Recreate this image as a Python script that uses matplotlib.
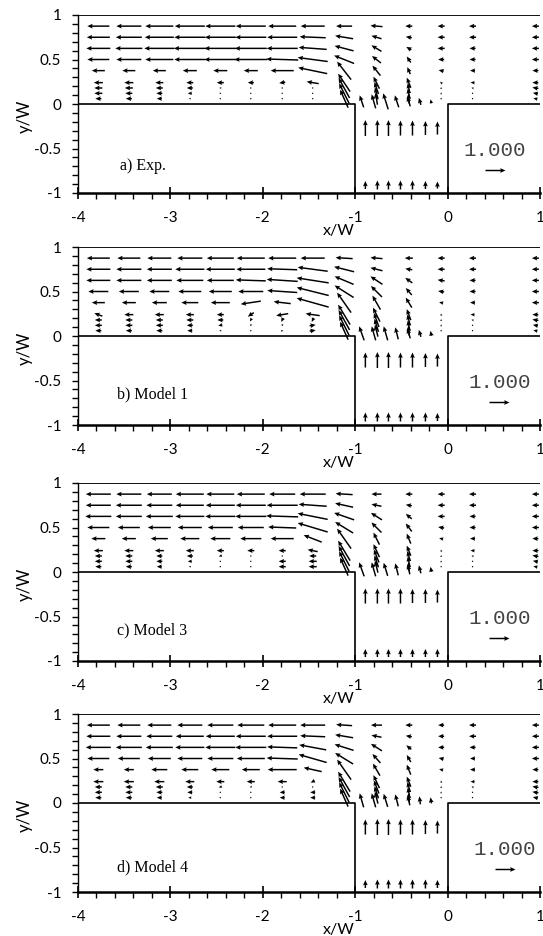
import numpy as np
import matplotlib
matplotlib.use('Agg')
import matplotlib.pyplot as plt
from matplotlib.ticker import MultipleLocator

# grid of the measurement / model points
x_cols = [-3.78, -3.45, -3.12, -2.79, -2.46, -2.13, -1.79, -1.46, -1.12, -0.77, -0.42, -0.07, 0.27, 0.95]
y_rows = [0.875, 0.75, 0.625, 0.5, 0.375, 0.24, 0.18, 0.12, 0.06]

# a) Exp.
u_exp = [[-1.1, -1.25, -1.4, -1.5, -1.5, -1.5, -1.4, -1.2, -0.8, -0.6, -0.35, -0.35, -0.35, -0.35],
         [-1.15, -1.3, -1.45, -1.55, -1.55, -1.55, -1.5, -1.3, -0.9, -0.5, -0.3, -0.35, -0.35, -0.35],
         [-1.2, -1.35, -1.5, -1.6, -1.6, -1.6, -1.55, -1.4, -0.95, -0.5, -0.25, -0.35, -0.3, -0.35],
         [-1.1, -1.25, -1.4, -1.55, -1.6, -1.65, -1.6, -1.5, -1.0, -0.45, -0.2, -0.3, -0.3, -0.35],
         [-0.65, -0.65, -0.65, -0.7, -0.7, -0.7, -1.15, -1.45, -0.7, -0.4, -0.15, -0.25, -0.25, -0.3],
         [-0.45, -0.45, -0.4, -0.35, -0.35, -0.3, -0.3, -0.6, -0.6, -0.3, -0.2, -0.1, -0.2, -0.3],
         [-0.4, -0.4, -0.35, -0.3, -0.1, -0.05, -0.02, -0.02, -0.55, -0.2, -0.1, 0.0, -0.1, -0.3],
         [-0.4, -0.35, -0.3, -0.2, -0.05, -0.02, 0.0, 0.0, -0.5, -0.15, -0.1, 0.0, 0.0, -0.25],
         [-0.3, -0.3, -0.25, -0.1, -0.02, 0.0, 0.0, 0.0, -0.4, -0.1, -0.05, 0.0, 0.0, -0.2]]
v_exp = [[0, 0, 0, 0, 0, 0, 0, 0, 0, 0.05, 0, 0, 0, 0],
         [0, 0, 0, 0, 0, 0, 0, 0.05, 0.15, 0.15, 0.05, 0, 0, 0],
         [0, 0, 0, 0, 0, 0, 0, 0.1, 0.25, 0.3, 0.15, 0, 0, 0],
         [0, 0, 0, 0, 0, 0, 0.05, 0.2, 0.4, 0.35, 0.3, 0, 0, 0],
         [0, 0, 0, 0, 0, 0, 0, 0.3, 0.9, 0.5, 0.35, 0.05, 0, 0],
         [0, 0, 0, 0, 0, 0, -0.05, 0.1, 0.9, 0.6, 0.5, 0.1, 0, 0],
         [0, 0, 0, 0, 0, -0.05, -0.05, -0.05, 1.0, 0.6, 0.5, 0.1, 0.05, 0.05],
         [0, 0, 0, 0, 0, -0.05, -0.05, -0.05, 1.0, 0.6, 0.5, 0.1, 0.05, 0.05],
         [0, 0, 0, 0, 0, -0.03, -0.05, -0.05, 0.9, 0.6, 0.5, 0.05, 0.05, 0.05]]

# b) Model 1
u_m1 = [[-1.15, -1.15, -1.2, -1.25, -1.35, -1.4, -1.4, -1.2, -0.85, -0.6, -0.4, -0.35, -0.35, -0.35],
        [-1.2, -1.25, -1.25, -1.45, -1.45, -1.45, -1.5, -1.5, -1.0, -0.6, -0.35, -0.35, -0.35, -0.35],
        [-1.2, -1.25, -1.25, -1.35, -1.35, -1.5, -1.55, -1.6, -0.95, -0.6, -0.35, -0.35, -0.3, -0.35],
        [-1.0, -1.0, -1.0, -1.15, -1.15, -1.25, -1.5, -1.6, -0.95, -0.55, -0.3, -0.3, -0.3, -0.35],
        [-0.65, -0.7, -0.75, -0.85, -0.95, -1.0, -0.85, -1.6, -0.7, -0.4, -0.3, -0.2, -0.25, -0.35],
        [-0.4, -0.45, -0.45, -0.4, -0.35, -0.3, -0.6, -0.7, -0.6, -0.35, -0.2, -0.05, -0.2, -0.3],
        [-0.35, -0.35, -0.35, -0.35, -0.3, -0.1, -0.1, -0.1, -0.55, -0.25, -0.15, 0.0, -0.1, -0.3],
        [-0.35, -0.35, -0.35, -0.3, -0.2, -0.05, -0.05, 0.3, -0.5, -0.2, -0.1, 0.0, 0.0, -0.25],
        [-0.3, -0.3, -0.3, -0.25, -0.1, 0.0, 0.1, 0.3, -0.4, -0.15, -0.05, 0.0, 0.0, -0.2]]
v_m1 = [[0, 0, 0, 0, 0, 0, 0, 0, 0.05, 0.05, 0, 0, 0, 0],
        [0, 0, 0, 0, 0, 0, 0.05, 0.2, 0.25, 0.15, 0.05, 0, 0, 0],
        [0, 0, 0, 0, 0, 0.05, 0.1, 0.25, 0.4, 0.4, 0.25, 0.05, 0, 0],
        [0, 0, 0, 0, 0, 0, 0.1, 0.4, 0.6, 0.55, 0.35, 0.05, 0, 0],
        [0, 0, 0, 0, 0, -0.15, 0.1, 0.45, 1.0, 0.7, 0.5, 0.05, 0, 0],
        [0.15, 0, 0, 0, 0, -0.2, -0.1, 0.1, 1.0, 0.7, 0.55, 0.1, 0, 0],
        [0, 0, 0, 0, 0, -0.15, -0.2, -0.2, 1.0, 0.7, 0.55, 0.1, 0.05, 0.05],
        [0, 0, 0, 0, -0.05, -0.1, -0.1, 0.05, 1.0, 0.65, 0.5, 0.1, 0.05, 0.05],
        [0, 0, 0, 0, 0, -0.05, 0.05, 0.05, 0.9, 0.6, 0.5, 0.05, 0.05, 0.05]]

# c) Model 3
u_m3 = [[-1.25, -1.25, -1.25, -1.4, -1.4, -1.4, -1.3, -1.3, -0.85, -0.5, -0.35, -0.35, -0.35, -0.35],
        [-1.25, -1.3, -1.3, -1.4, -1.45, -1.5, -1.55, -1.4, -0.9, -0.5, -0.3, -0.35, -0.35, -0.35],
        [-1.3, -1.3, -1.35, -1.45, -1.5, -1.55, -1.6, -1.5, -1.0, -0.55, -0.3, -0.35, -0.3, -0.35],
        [-1.1, -1.1, -1.15, -1.2, -1.25, -1.3, -1.4, -1.5, -0.9, -0.5, -0.3, -0.3, -0.3, -0.35],
        [-0.7, -0.7, -0.85, -0.95, -1.0, -1.05, -1.15, -0.9, -0.7, -0.3, -0.2, -0.2, -0.25, -0.3],
        [-0.45, -0.45, -0.45, -0.4, -0.35, -0.35, -0.35, -0.5, -0.6, -0.3, -0.2, -0.05, -0.2, -0.3],
        [-0.35, -0.35, -0.3, -0.3, -0.15, -0.05, -0.05, -0.35, -0.55, -0.25, -0.15, 0.0, -0.1, -0.3],
        [-0.35, -0.35, -0.3, -0.2, -0.05, 0.0, -0.35, -0.4, -0.5, -0.2, -0.1, 0.0, 0.0, -0.25],
        [-0.3, -0.3, -0.25, -0.1, 0.0, 0.0, -0.35, -0.4, -0.4, -0.15, -0.05, 0.0, 0.0, -0.2]]
v_m3 = [[0, 0, 0, 0, 0, 0, 0, 0, 0.05, 0, 0, 0, 0, 0],
        [0, 0, 0, 0, 0, 0, 0, 0.1, 0.2, 0.1, 0.05, 0, 0, 0],
        [0, 0, 0, 0, 0, 0, 0.05, 0.3, 0.35, 0.35, 0.25, 0, 0, 0],
        [0, 0, 0, 0, 0, 0, 0.05, 0.45, 0.55, 0.5, 0.4, 0.05, 0, 0],
        [0, 0, 0, 0, 0, 0, 0, 0.35, 1.0, 0.6, 0.5, 0.05, 0, 0],
        [0, 0, 0, 0, 0, 0, 0, 0.1, 1.0, 0.65, 0.5, 0.1, 0, 0],
        [0, 0, 0, 0, -0.05, -0.05, 0, 0, 1.0, 0.65, 0.5, 0.1, 0.05, 0.05],
        [0, 0, 0, 0, -0.05, -0.05, 0, 0, 1.0, 0.6, 0.5, 0.1, 0.05, 0.05],
        [0, 0, 0, 0, -0.03, -0.03, 0, 0, 0.9, 0.6, 0.45, 0.05, 0.05, 0.05]]

# d) Model 4
u_m4 = [[-1.15, -1.15, -1.2, -1.25, -1.3, -1.35, -1.4, -1.25, -0.8, -0.55, -0.35, -0.3, -0.35, -0.35],
        [-1.2, -1.25, -1.3, -1.4, -1.45, -1.5, -1.5, -1.25, -0.9, -0.5, -0.3, -0.3, -0.35, -0.35],
        [-1.25, -1.3, -1.35, -1.45, -1.5, -1.55, -1.5, -1.35, -0.95, -0.55, -0.25, -0.3, -0.3, -0.35],
        [-1.1, -1.1, -1.15, -1.25, -1.3, -1.4, -1.55, -1.4, -0.9, -0.4, -0.2, -0.25, -0.25, -0.35],
        [-0.5, -0.5, -0.8, -0.85, -0.9, -0.9, -1.45, -0.9, -0.7, -0.35, -0.2, -0.2, -0.25, -0.3],
        [-0.5, -0.5, -0.5, -0.45, -0.4, -0.4, -0.45, -0.2, -0.6, -0.3, -0.2, -0.05, -0.2, -0.3],
        [-0.35, -0.35, -0.35, -0.3, -0.15, -0.1, -0.05, -0.05, -0.55, -0.25, -0.15, 0.0, -0.1, -0.3],
        [-0.35, -0.35, -0.3, -0.25, -0.05, 0.0, -0.25, -0.25, -0.5, -0.2, -0.1, 0.0, 0.0, -0.3],
        [-0.3, -0.3, -0.25, -0.15, 0.0, 0.0, -0.25, -0.25, -0.4, -0.15, -0.05, 0.0, 0.0, -0.25]]
v_m4 = [[0, 0, 0, 0, 0, 0, 0, 0, 0.05, 0, 0, 0, 0, 0],
        [0, 0, 0, 0, 0, 0, 0, 0.05, 0.15, 0.1, 0.05, 0, 0, 0],
        [0, 0, 0, 0, 0, 0, 0.05, 0.25, 0.3, 0.35, 0.2, 0, 0, 0],
        [0, 0, 0, 0, 0, 0, 0.05, 0.4, 0.55, 0.45, 0.35, 0.05, 0, 0],
        [0, 0, 0, 0, 0, 0, 0, 0.2, 1.0, 0.6, 0.5, 0.05, 0, 0],
        [0, 0, 0, 0, 0, 0, 0, -0.1, 1.0, 0.65, 0.5, 0.1, 0, 0],
        [0, 0, 0, 0, -0.05, -0.05, 0, 0, 1.0, 0.65, 0.5, 0.1, 0.05, 0.05],
        [0, 0, 0, 0, -0.05, -0.05, 0, 0, 1.0, 0.6, 0.5, 0.1, 0.05, 0.05],
        [0, 0, 0, 0, -0.03, -0.03, 0, 0, 0.9, 0.6, 0.45, 0.05, 0.05, 0.05]]

# row just above the slot entrance
ent_x = [-0.93, -0.8, -0.67, -0.55, -0.42, -0.3, -0.18]
ent_y = 0.03
ent_u = {'a': [-0.2, -0.2, -0.25, -0.2, -0.15, -0.1, -0.05],
         'b': [-0.25, -0.2, -0.2, -0.15, -0.15, -0.1, -0.05],
         'c': [-0.25, -0.2, -0.2, -0.15, -0.1, -0.1, -0.05],
         'd': [-0.2, -0.2, -0.2, -0.15, -0.1, -0.05, -0.05]}
ent_v = {'a': [0.6, 0.7, 0.8, 0.6, 0.5, 0.35, 0.2],
         'b': [0.7, 0.7, 0.7, 0.6, 0.5, 0.35, 0.25],
         'c': [0.7, 0.7, 0.65, 0.6, 0.5, 0.4, 0.25],
         'd': [0.7, 0.7, 0.65, 0.6, 0.5, 0.4, 0.3]}

# inside the slot
slot_x = [-0.89, -0.76, -0.64, -0.51, -0.38, -0.24, -0.11]
slot_y = [-0.27, -0.91]
slot_v = {'a': [[0.8, 0.8, 0.8, 0.75, 0.75, 0.7, 0.65], [0.4, 0.45, 0.45, 0.45, 0.45, 0.4, 0.35]],
          'b': [[0.75, 0.8, 0.8, 0.75, 0.75, 0.7, 0.65], [0.45, 0.45, 0.45, 0.45, 0.45, 0.45, 0.4]],
          'c': [[0.75, 0.75, 0.75, 0.75, 0.7, 0.7, 0.65], [0.4, 0.4, 0.4, 0.4, 0.4, 0.4, 0.4]],
          'd': [[0.75, 0.8, 0.8, 0.75, 0.75, 0.7, 0.65], [0.4, 0.45, 0.45, 0.45, 0.45, 0.45, 0.4]]}

panels = [('a', 'a) Exp.', u_exp, v_exp, (-3.55, -0.70), 0.51),
          ('b', 'b) Model 1', u_m1, v_m1, (-3.58, -0.66), 0.56),
          ('c', 'c) Model 3', u_m3, v_m3, (-3.58, -0.66), 0.56),
          ('d', 'd) Model 4', u_m4, v_m4, (-3.58, -0.72), 0.62)]

# panel top edges in pixels
tops = [15, 247, 483, 714]

W, H = 543, 936
fig = plt.figure(figsize=(W / 100, H / 100), dpi=100)

X, Y = np.meshgrid(x_cols, y_rows)
qkw = dict(color='black', pivot='mid', angles='uv', scale_units='x', scale=4.62,
           width=0.0032, headwidth=3.2, headlength=3.6, headaxislength=3.2)

for (key, label, U, V, lpos, kx), top in zip(panels, tops):
    ax = fig.add_axes([78 / W, (H - top - 178) / H, 462 / W, 178 / H])
    ax.set_xlim(-4, 1)
    ax.set_ylim(-1, 1)

    q = ax.quiver(X, Y, np.array(U), np.array(V), **qkw)
    ax.quiver(ent_x, [ent_y] * len(ent_x), ent_u[key], ent_v[key], **qkw)
    for sy, sv in zip(slot_y, slot_v[key]):
        ax.quiver(slot_x, [sy] * len(slot_x), [0] * len(slot_x), sv, **qkw)

    # channel walls
    ax.plot([-4, 1], [1, 1], color='black', lw=1.3)
    ax.plot([-4, -1, -1], [0, 0, -1], color='black', lw=1.2)
    ax.plot([0, 0, 1], [-1, 0, 0], color='black', lw=1.2)

    ax.quiverkey(q, kx, -0.74, 1.0, '1.000', labelpos='N', coordinates='data',
                 labelsep=0.1, color='black', labelcolor='#444444',
                 fontproperties={'family': 'Liberation Mono', 'size': 15})
    ax.text(lpos[0], lpos[1], label, family='Liberation Serif', fontsize=11.5,
            va='center', ha='left')

    for s in ['top', 'right']:
        ax.spines[s].set_visible(False)
    ax.spines['bottom'].set_linewidth(1.8)
    ax.spines['left'].set_linewidth(1.0)

    ax.xaxis.set_minor_locator(MultipleLocator(0.2))
    ax.yaxis.set_minor_locator(MultipleLocator(0.1))
    ax.set_xticks([-4, -3, -2, -1, 0, 1])
    ax.set_xticklabels(['-4', '-3', '-2', '-1', '0', '1'])
    ax.set_yticks([-1, -0.5, 0, 0.5, 1])
    ax.set_yticklabels(['-1', '-0.5', '0', '0.5', '1'])
    ax.tick_params(axis='x', which='major', direction='inout', length=8, width=1.2, pad=9)
    ax.tick_params(axis='x', which='minor', direction='out', length=4, width=1.0)
    ax.tick_params(axis='y', which='both', direction='out', length=4, width=1.0, pad=8)
    for t in ax.get_xticklabels() + ax.get_yticklabels():
        t.set_family('Lato')
        t.set_fontsize(11)

    ax.set_xlabel('x/W', family='Lato', fontsize=11.5)
    ax.xaxis.set_label_coords(0.565, -0.175)
    ax.set_ylabel('y/W', family='Lato', fontsize=12)
    ax.yaxis.set_label_coords(-0.098, 0.43)

fig.savefig('out.png', dpi=100)
